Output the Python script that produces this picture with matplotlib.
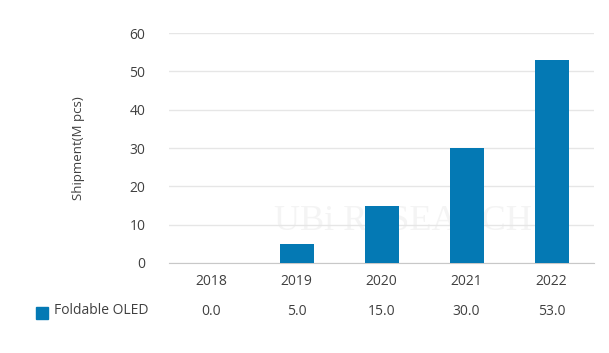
import matplotlib.pyplot as plt
from matplotlib.patches import Rectangle

plt.rcParams['font.family'] = ['Open Sans', 'DejaVu Sans']

years = ['2018', '2019', '2020', '2021', '2022']
shipment = [0.0, 5.0, 15.0, 30.0, 53.0]
series_name = 'Foldable OLED'

BAR = '#0479b4'
TXT = '#404040'

fig = plt.figure(figsize=(6.09, 3.53), dpi=100)
ax = fig.add_axes([169 / 609, 1 - 263 / 353, 425 / 609, 230 / 353])

x = list(range(len(years)))
ax.bar(x, shipment, width=0.4, color=BAR, zorder=3)
ax.set_xlim(-0.5, len(years) - 0.5)
ax.set_ylim(0, 60)
ax.set_yticks(range(0, 61, 10))
ax.set_xticks(x)
ax.set_xticklabels(years)
ax.tick_params(length=0, labelsize=10, colors=TXT)
ax.tick_params(axis='y', pad=17)
ax.tick_params(axis='x', pad=8)
ax.grid(axis='y', color='#e6e6e6', lw=1, zorder=0)
for s in ['top', 'right', 'left']:
    ax.spines[s].set_visible(False)
ax.spines['bottom'].set_color('#c8c8c8')
ax.set_ylabel('Shipment(M pcs)', fontsize=9.5, color=TXT, labelpad=32)

# faint watermark
ax.text(0.55, 0.18, 'UBi RESEARCH', transform=ax.transAxes, ha='center',
        va='center', fontsize=26, color='#f4f4f4', family='Liberation Serif',
        zorder=1)

# data table row under the axis
for xi, v in zip(x, shipment):
    ax.text(xi, -0.21, f'{v:.1f}', transform=ax.get_xaxis_transform(),
            ha='center', va='center', fontsize=10, color=TXT)
fig.patches.append(Rectangle((36 / 609, 1 - 319 / 353), 12 / 609, 12 / 353,
                             transform=fig.transFigure, color=BAR))
fig.text(54 / 609, 1 - 310 / 353, series_name, ha='left', va='center',
         fontsize=10, color=TXT)

fig.savefig('out.png', dpi=100)
